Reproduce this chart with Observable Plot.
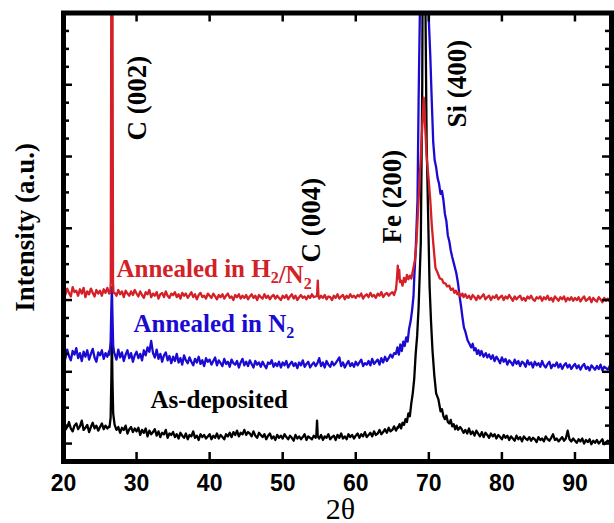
<!DOCTYPE html>
<html>
<head>
<meta charset="utf-8">
<script src="https://cdn.jsdelivr.net/npm/d3@7"></script>
<script src="https://cdn.jsdelivr.net/npm/@observablehq/plot@0.6"></script>
<style>
  html, body { margin: 0; padding: 0; background: #fff; }
</style>
</head>
<body>
<div id="chart"></div>
<script>
// ---- scan grid (2θ, degrees) ----
const scanStart = 20;
const scanStep = 0.25;

// ---- baselines (intensity, a.u.), 20 values = 5° per row ----
const asDepBase = [
  1260,1190,1230,1300,1210,1170,1250,1280,1200,1240,1320,1190,1220,1260,1160,1230,1290,1210,1250,1180,
  1230,1280,1200,1250,1210,1240,1300,1300,1260,1190,1230,1150,1220,1190,1250,1140,1200,1230,1160,1210,
  1170,1220,1120,1190,1150,1210,1100,1180,1130,1160,1200,1110,1170,1090,1150,1130,1190,1080,1140,1120,
  1160,1090,1130,1070,1150,1110,1080,1140,1060,1120,1100,1170,1080,1110,1050,1130,1090,1120,1070,1100,
  1130,1060,1110,1080,1140,1070,1120,1090,1060,1130,1100,1150,1090,1160,1120,1180,1100,1150,1130,1190,
  1120,1160,1140,1100,1170,1110,1080,1150,1120,1090,1130,1060,1110,1140,1070,1100,1050,1120,1080,1110,
  1070,1130,1090,1060,1110,1080,1040,1120,1070,1100,1060,1090,1130,1050,1100,1080,1060,1110,1080,1090,
  1070,1120,1050,1100,1080,1130,1060,1090,1110,1050,1120,1080,1140,1070,1100,1060,1130,1090,1120,1070,
  1110,1140,1080,1130,1100,1160,1090,1120,1150,1100,1170,1120,1140,1190,1130,1160,1200,1150,1220,1170,
  1190,1240,1180,1230,1300,1300,1300,1300,1300,1300,1300,1300,1300,1300,1300,1300,1300,1300,1300,1300,
  1300,1300,1300,1300,1300,1300,1300,1300,1300,1300,1300,1300,1300,1300,1300,1300,1300,1300,1200,1150,
  1190,1140,1210,1130,1170,1110,1180,1140,1100,1160,1090,1150,1120,1080,1140,1100,1130,1070,1120,1090,
  1060,1120,1080,1110,1050,1100,1070,1040,1110,1060,1090,1030,1100,1070,1050,1090,1040,1080,1060,1020,
  1090,1050,1070,1030,1100,1060,1040,1080,1130,1050,1070,1030,1060,1090,1040,1070,1180,1060,1030,1070,
  1040,1010,1060,1030,1070,1000,1050,1020,1060,990,1040,1010,1050,1000,1030,1060,990,1020,1040,1000,
  1020
];
const n2Base = [
  2250,2180,2310,2220,2160,2290,2240,2330,2190,2260,2150,2280,2210,2300,2170,2250,2320,2200,2140,2270,
  2230,2300,2180,2260,2210,2290,2250,2250,2250,2170,2310,2200,2270,2150,2240,2300,2190,2260,2140,2230,
  2280,2190,2250,2160,2300,2230,2340,2280,2430,2260,2200,2310,2180,2250,2140,2230,2270,2160,2220,2120,
  2210,2150,2250,2130,2190,2100,2230,2160,2120,2200,2140,2090,2180,2130,2210,2110,2160,2080,2190,2140,
  2170,2100,2150,2200,2090,2160,2120,2080,2180,2110,2140,2070,2170,2120,2100,2150,2060,2130,2180,2090,
  2140,2080,2160,2110,2060,2150,2100,2130,2070,2140,2090,2050,2130,2110,2160,2070,2120,2080,2140,2060,
  2130,2090,2150,2060,2110,2140,2080,2120,2050,2130,2090,2160,2070,2110,2140,2060,2100,2130,2080,2120,
  2190,2080,2130,2060,2150,2100,2070,2140,2090,2120,2160,2200,2080,2130,2060,2110,2150,2080,2120,2070,
  2140,2090,2130,2170,2080,2120,2100,2150,2090,2180,2110,2140,2170,2100,2190,2130,2210,2150,2190,2240,
  2200,2260,2300,2300,2300,2300,2300,2300,2300,2300,2300,2300,2300,2300,2300,2300,2300,2300,2300,2300,
  2300,2300,2300,2300,2300,2300,2300,2300,2300,2300,2300,2300,2300,2300,2300,2300,2300,2300,2300,2300,
  2300,2300,2300,2300,2300,2300,2300,2300,2300,2300,2300,2300,2300,2240,2180,2230,2150,2210,2170,2120,
  2200,2140,2180,2100,2160,2130,2090,2170,2110,2150,2080,2140,2120,2070,2160,2100,2130,2060,2140,2090,
  2120,2070,2150,2090,2060,2110,2140,2050,2100,2080,2130,2060,2110,2040,2090,2120,2060,2100,2040,2080,
  2110,2050,2090,2030,2080,2110,2040,2070,2020,2090,2060,2030,2080,2040,2100,2020,2070,2050,2030,2080,
  2060
];
const h2n2Base = [
  3140,3070,3160,3100,3050,3180,3110,3130,3060,3150,3090,3170,3040,3120,3080,3160,3100,3050,3140,3090,
  3130,3060,3150,3100,3170,3090,3100,3100,3100,3060,3140,3080,3120,3040,3130,3090,3060,3120,3070,3140,
  3090,3050,3120,3070,3030,3110,3080,3140,3040,3090,3060,3110,3020,3080,3100,3040,3120,3060,3030,3090,
  3070,3110,3040,3080,3020,3100,3060,3090,3030,3070,3110,3040,3080,3010,3070,3100,3040,3060,3020,3090,
  3060,3030,3090,3050,3010,3070,3040,3080,3020,3060,3090,3030,3050,3000,3070,3040,3080,3020,3060,3030,
  3070,3010,3050,3080,3030,3060,3000,3070,3040,3020,3080,3030,3060,3010,3050,3070,3020,3060,3030,3000,
  3060,3030,3070,3010,3050,3080,3020,3060,3000,3040,3070,3030,3050,3010,3060,3030,3080,3040,3050,3040,
  3020,3060,3030,3070,3010,3050,3040,3000,3060,3030,3080,3020,3050,3070,3010,3060,3030,3080,3040,3060,
  3030,3070,3050,3090,3020,3060,3080,3040,3100,3050,3070,3030,3090,3060,3110,3040,3080,3100,3060,3090,
  3110,3070,3300,3300,3300,3300,3300,3300,3300,3300,3300,3300,3300,3300,3300,3300,3300,3300,3300,3300,
  3300,3300,3300,3300,3300,3300,3300,3300,3300,3300,3300,3300,3300,3300,3300,3300,3300,3300,3300,3040,
  3080,3030,3060,3010,3070,3040,3000,3060,3020,3050,3080,3010,3040,3060,3000,3050,3030,3070,3010,3040,
  3060,3000,3050,3020,3070,3030,2990,3050,3010,3040,3060,3000,3030,2990,3050,3020,3060,3010,2990,3040,
  3020,3050,2990,3040,3010,3060,3000,3030,2980,3050,3020,2990,3040,3010,3050,2980,3030,3000,3040,2990,
  3030,3000,3040,2980,3020,3050,2990,3010,3040,2970,3030,3000,2980,3040,3010,2970,3030,2990,3020,2980,
  3010
];

// ---- peak regions, [2θ, intensity] ----
const asDepC002 = [[26.3,1230],[26.45,1360],[26.55,1900],[26.62,2480],[26.7,1900],[26.8,1420],[26.95,1300]];
const asDepC004 = [[54.6,1110],[54.7,1320],[54.8,1100]];
const asDepSi400 = [[65.8,1220],[66.0,1270],[66.2,1210],[66.4,1290],[66.6,1260],[66.8,1340],[67.0,1300],
  [67.2,1420],[67.4,1380],[67.6,1560],[67.8,1700],[68.0,1900],[68.2,2250],[68.4,2500],[68.6,2900],
  [68.9,3800],[69.1,6000],[69.3,12000],[69.5,7500],[69.7,5200],[69.9,4200],[70.1,3200],[70.3,2700],
  [70.5,2300],[70.75,1950],[71.0,1700],[71.3,1620],[71.6,1450],[71.8,1480],[72.0,1380],[72.2,1340],
  [72.4,1390],[72.6,1300],[72.8,1280],[73.0,1330],[73.2,1240],[73.4,1270],[73.6,1200],[73.8,1250],
  [74.0,1190],[74.3,1230]];

const n2C002 = [[26.3,2240],[26.45,2420],[26.55,2900],[26.62,3180],[26.7,2800],[26.8,2360],[26.95,2260]];
const n2Si400 = [[65.5,2250],[65.7,2340],[65.9,2240],[66.1,2380],[66.3,2290],[66.5,2420],[66.7,2360],
  [66.9,2480],[67.1,2420],[67.3,2600],[67.5,2700],[67.7,2850],[67.9,3050],[68.0,3300],[68.2,3690],
  [68.45,4390],[68.6,5780],[68.8,7200],[69.3,15000],[69.8,7500],[70.0,6900],[70.2,6400],[70.4,5780],
  [70.6,5200],[70.8,4950],[71.0,4850],[71.2,4700],[71.4,4620],[71.6,4480],[71.8,4520],[72.0,4390],
  [72.2,4200],[72.4,4100],[72.6,3900],[72.8,3820],[73.0,3690],[73.2,3600],[73.5,3480],[73.75,3380],
  [74.0,3230],[74.2,3060],[74.4,2920],[74.6,2760],[74.8,2620],[75.0,2560],[75.3,2440],[75.5,2400],
  [75.8,2340],[76.0,2390],[76.2,2300],[76.4,2330],[76.6,2250],[76.8,2300],[77.0,2230],[77.2,2290],
  [77.5,2210],[77.8,2260],[78.0,2200]];

const h2n2C002 = [[26.4,3100],[26.47,3250],[26.62,12000],[26.78,3250],[26.85,3100]];
const h2n2C004 = [[54.7,3060],[54.8,3270],[54.9,3050]];
const h2n2Si400 = [[65.3,3090],[65.5,3150],[65.6,3250],[65.75,3480],[65.85,3300],[65.95,3420],[66.05,3250],
  [66.2,3270],[66.4,3200],[66.6,3310],[66.8,3250],[67.0,3350],[67.2,3290],[67.4,3340],[67.6,3300],
  [67.9,3450],[68.1,3560],[68.3,3800],[68.6,4390],[68.9,5000],[69.3,5820],[69.7,5000],[70.0,4650],
  [70.2,4390],[70.4,4050],[70.6,3800],[70.9,3450],[71.2,3380],[71.5,3300],[71.8,3290],[72.0,3240],
  [72.3,3230],[72.5,3190],[72.8,3200],[73.0,3140],[73.3,3160],[73.5,3100],[73.7,3130],[73.9,3080],
  [74.1,3110],[74.3,3050],[74.6,3090]];

// ---- labels and ticks ----
const peakLabels = ["C (002)", "C (004)", "Fe (200)", "Si (400)"];
const seriesLabels = ["As-deposited", "Annealed in N_2", "Annealed in H_2/N_2"];
const seriesColors = ["#000000", "#1a0ad2", "#d42027"];
const xTicks = [20, 30, 40, 50, 60, 70, 80, 90];
const yMajor = [1000, 2000, 3000, 4000, 5000, 6000];
const yMinor = [1250,1500,1750,2250,2500,2750,3250,3500,3750,4250,4500,4750,5250,5500,5750,6250,6500,6750];

function buildSeries(base, groups) {
  const windows = groups.map(g => [d3.min(g, d => d[0]), d3.max(g, d => d[0])]);
  const pts = base.map((v, i) => [scanStart + i * scanStep, v])
    .filter(([x]) => !windows.some(([a, b]) => x >= a && x <= b));
  return pts.concat(...groups).sort((a, b) => a[0] - b[0]);
}

const asDep = buildSeries(asDepBase, [asDepC002, asDepC004, asDepSi400]);
const n2 = buildSeries(n2Base, [n2C002, n2Si400]);
const h2n2 = buildSeries(h2n2Base, [h2n2C002, h2n2C004, h2n2Si400]);

const serif = "'Liberation Serif', 'Times New Roman', serif";
const sans = "'Liberation Sans', Arial, sans-serif";

const W = 614, H = 523;
const mL = 63, mR = 3, mT = 12.5, mB = 62;
const plotW = W - mL - mR, plotH = H - mT - mB;
const majorLen = 9, minorLen = 6, tickW = 2.5;

function lineMark(data, color) {
  return Plot.line(data, {x: d => d[0], y: d => d[1], stroke: color, strokeWidth: 2.3, clip: true});
}
function peakText(label, x, y) {
  return Plot.text([label], {x, y, rotate: -90, textAnchor: "start", fontSize: 27,
    fontWeight: "bold", fontFamily: serif, fill: "#000"});
}
function seriesText(label, color, x, y) {
  return Plot.text([label], {x, y, textAnchor: "start", lineAnchor: "bottom", fontSize: 25,
    fontWeight: "bold", fontFamily: serif, fill: color});
}

const chart = Plot.plot({
  width: W,
  height: H,
  marginLeft: mL,
  marginRight: mR,
  marginTop: mT,
  marginBottom: mB,
  style: {background: "#fff", fontFamily: sans, color: "#000", overflow: "visible"},
  x: {domain: [20, 95], label: null},
  y: {domain: [750, 7000], label: null, axis: null},
  marks: [
    lineMark(asDep, seriesColors[0]),
    lineMark(n2, seriesColors[1]),
    lineMark(h2n2, seriesColors[2]),
    // inward ticks on all four sides
    Plot.tickX(xTicks, {insetTop: plotH - majorLen, stroke: "#000", strokeWidth: tickW}),
    Plot.tickX(xTicks, {insetBottom: plotH - majorLen, stroke: "#000", strokeWidth: tickW}),
    Plot.tickY(yMajor, {insetRight: plotW - majorLen, stroke: "#000", strokeWidth: tickW}),
    Plot.tickY(yMinor, {insetRight: plotW - minorLen, stroke: "#000", strokeWidth: tickW}),
    Plot.tickY(yMajor, {insetLeft: plotW - majorLen, stroke: "#000", strokeWidth: tickW}),
    Plot.tickY(yMinor, {insetLeft: plotW - minorLen, stroke: "#000", strokeWidth: tickW}),
    Plot.axisX({anchor: "bottom", ticks: xTicks, tickSize: 0, tickPadding: 13, fontSize: 23,
      fontWeight: "bold", fontFamily: sans, label: null}),
    Plot.frame({stroke: "#000", strokeWidth: 5}),
    // peak annotations
    peakText(peakLabels[0], 30.13, 5223),
    peakText(peakLabels[1], 53.94, 3523),
    peakText(peakLabels[2], 65.03, 3788),
    peakText(peakLabels[3], 73.92, 5404),
    // series labels
    seriesText(seriesLabels[0], seriesColors[0], 31.9, 1502),
    seriesText(seriesLabels[1], seriesColors[1], 29.58, 2548),
    seriesText(seriesLabels[2], seriesColors[2], 27.25, 3328),
    // axis titles
    Plot.text(["Intensity (a.u.)"], {x: 14.8, y: 4011, rotate: -90,
      fontSize: 27, fontWeight: "bold", fontFamily: serif, fill: "#000"}),
    Plot.text(["2θ"], {frameAnchor: "bottom", dx: 3, dy: 57, lineAnchor: "bottom",
      fontSize: 30, fontFamily: serif, fill: "#000"})
  ]
});

// subscripts: "X_2" -> X with subscript 2
d3.select(chart).selectAll("text").each(function () {
  const t = this.textContent;
  if (!t.includes("_")) return;
  const parts = t.split(/_(\d)/);
  this.textContent = "";
  const sel = d3.select(this);
  parts.forEach((p, i) => {
    if (!p) return;
    if (i % 2 === 1) {
      sel.append("tspan").attr("font-size", "64%").attr("dy", "6").text(p);
      sel.append("tspan").attr("dy", "-6").text("");
    } else {
      sel.append("tspan").text(p);
    }
  });
});

document.getElementById("chart").appendChild(chart);
</script>
</body>
</html>
